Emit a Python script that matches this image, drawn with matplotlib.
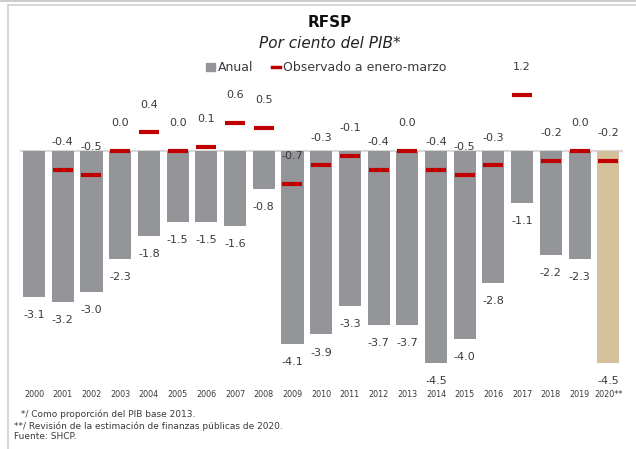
import matplotlib
matplotlib.use('Agg')
import matplotlib.pyplot as plt
import numpy as np
from matplotlib.patches import Rectangle
from matplotlib.lines import Line2D

# datos (por ciento del PIB)
anios = ['2000', '2001', '2002', '2003', '2004', '2005', '2006', '2007', '2008', '2009', '2010',
         '2011', '2012', '2013', '2014', '2015', '2016', '2017', '2018', '2019', '2020**']
anual = [-3.1, -3.2, -3.0, -2.3, -1.8, -1.5, -1.5, -1.6, -0.8, -4.1, -3.9,
         -3.3, -3.7, -3.7, -4.5, -4.0, -2.8, -1.1, -2.2, -2.3, -4.5]
ene_mar = [np.nan, -0.4, -0.5, 0.0, 0.4, 0.0, 0.1, 0.6, 0.5, -0.7, -0.3,
           -0.1, -0.4, 0.0, -0.4, -0.5, -0.3, 1.2, -0.2, 0.0, -0.2]

gris = '#939598'
tan = '#d4c19c'
rojo = '#c00000'
texto = '#3a3a3a'

plt.rcParams['font.family'] = 'DejaVu Sans'

fig = plt.figure(figsize=(6.36, 4.49), dpi=100)
ax = fig.add_axes([0.031, 0.140, 0.948, 0.722])

x = np.arange(len(anios))
colores = [gris] * (len(anios) - 1) + [tan]
ax.bar(x, anual, width=0.77, color=colores, zorder=2)
ax.axhline(0, color='#d9d9d9', lw=1.5, zorder=1)
ax.plot(x, ene_mar, linestyle='none', marker='_', markersize=14, markeredgewidth=3,
        color=rojo, zorder=3)

for i in range(len(anios)):
    ax.annotate(f'{anual[i]:.1f}', (x[i], anual[i]), xytext=(0, -13), textcoords='offset points',
                ha='center', va='center', fontsize=8, color=texto)
    if not np.isnan(ene_mar[i]):
        ax.annotate(f'{ene_mar[i]:.1f}', (x[i], ene_mar[i]), xytext=(0, 20), textcoords='offset points',
                    ha='center', va='center', fontsize=8, color=texto)

ax.set_xlim(-0.5, 20.5)
ax.set_ylim(-5.0, 1.9)
ax.set_xticks(x)
ax.set_xticklabels(anios, fontsize=5.8, color=texto)
ax.tick_params(axis='x', length=0, pad=3)
ax.set_yticks([])
for s in ax.spines.values():
    s.set_visible(False)

fig.text(0.519, 0.951, 'RFSP', ha='center', va='center', fontsize=11, fontweight='bold', color='#111111')
fig.text(0.519, 0.904, 'Por ciento del PIB*', ha='center', va='center', fontsize=11, style='italic', color='#222222')

handles = [Rectangle((0, 0), 1, 1, color=gris),
           Line2D([0], [0], color=rojo, lw=2.5)]
fig.legend(handles, ['Anual', 'Observado a enero-marzo'], loc='center', bbox_to_anchor=(0.513, 0.849),
           ncol=2, frameon=False, fontsize=9, handlelength=0.7, handleheight=0.7, handletextpad=0.2,
           columnspacing=1.5, labelcolor=texto)

fig.text(0.028, 0.078, ' */ Como proporción del PIB base 2013.', fontsize=6.5, color=texto, va='center')
fig.text(0.022, 0.051, '**/ Revisión de la estimación de finanzas públicas de 2020.', fontsize=6.5, color=texto, va='center')
fig.text(0.022, 0.027, 'Fuente: SHCP.', fontsize=6.5, color=texto, va='center')

# marco
fig.patches.append(Rectangle((8 / 636, -0.1), 1.2, 1.1 - 5 / 449, transform=fig.transFigure,
                             fill=False, edgecolor='#d0d0d0', lw=1.2))
fig.patches.append(Rectangle((0, 1 - 2 / 449), 1, 2 / 449, transform=fig.transFigure,
                             color='#cccccc', lw=0))

fig.savefig('out.png', dpi=100)
